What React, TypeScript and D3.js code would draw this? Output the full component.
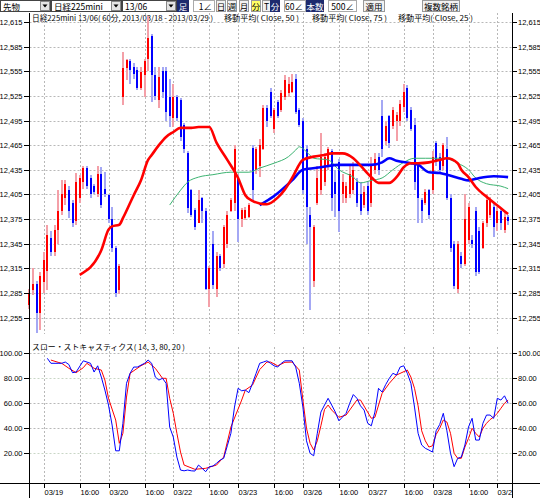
import React, { useEffect, useRef } from 'react';
import * as d3 from 'd3';

// price axis / stochastic axis ticks
const priceTicks = [12615, 12585, 12555, 12525, 12495, 12465, 12435, 12405, 12375, 12345, 12315, 12285, 12255];
const stochTicks = [100, 80, 60, 40, 20];

// time axis (bar index of each label)
const timeTickBars = [4, 14, 22, 32, 40, 50, 58, 68, 76, 86, 94, 104, 112, 122, 130];
const timeTickLabels = ['03/19', '16:00', '03/20', '16:00', '03/22', '16:00', '03/23', '16:00', '03/26', '16:00', '03/27', '16:00', '03/28', '16:00', '03/29'];

// 60 min bars
const opens = [
  12270, 12288, 12296, 12260, 12298, 12312, 12352, 12335, 12362, 12385, 12400, 12410, 12395, 12372, 12400, 12420, 12437, 12425, 12415, 12405,
  12430, 12412, 12404, 12375, 12340, 12288, 12524, 12559, 12568, 12560, 12556, 12535, 12550, 12570, 12598, 12550, 12520, 12555, 12555, 12524,
  12498, 12524, 12520, 12490, 12455, 12410, 12386, 12370, 12400, 12385, 12290, 12345, 12290, 12330, 12320, 12345, 12385, 12395, 12425, 12375,
  12376, 12378, 12462, 12435, 12440, 12460, 12510, 12530, 12485, 12518, 12508, 12524, 12528, 12530, 12545, 12508, 12495, 12460, 12380, 12300,
  12395, 12410, 12420, 12440, 12458, 12420, 12445, 12405, 12400, 12405, 12410, 12420, 12405, 12392, 12415, 12395, 12435, 12450, 12500, 12470,
  12500, 12488, 12495, 12495, 12512, 12535, 12508, 12490, 12440, 12398, 12395, 12410, 12410, 12468, 12450, 12440, 12460, 12400, 12345, 12290,
  12330, 12320, 12350, 12350, 12385, 12360, 12340, 12370, 12380, 12390, 12370, 12385, 12362, 12378,
];
const highs = [
  12290, 12315, 12300, 12310, 12335, 12368, 12360, 12368, 12410, 12422, 12422, 12415, 12398, 12431, 12428, 12440, 12440, 12428, 12418, 12440,
  12438, 12432, 12406, 12390, 12342, 12320, 12579, 12570, 12570, 12565, 12560, 12560, 12570, 12622, 12600, 12560, 12560, 12560, 12560, 12545,
  12540, 12526, 12522, 12492, 12458, 12412, 12388, 12410, 12402, 12388, 12318, 12360, 12335, 12332, 12368, 12385, 12400, 12465, 12428, 12388,
  12390, 12395, 12465, 12463, 12472, 12514, 12514, 12535, 12510, 12520, 12532, 12550, 12548, 12552, 12552, 12510, 12498, 12465, 12390, 12368,
  12440, 12480, 12455, 12463, 12460, 12435, 12448, 12430, 12420, 12440, 12445, 12425, 12420, 12415, 12420, 12450, 12455, 12455, 12520, 12495,
  12502, 12512, 12505, 12520, 12540, 12538, 12512, 12498, 12445, 12400, 12412, 12412, 12458, 12470, 12455, 12468, 12475, 12405, 12348, 12348,
  12335, 12405, 12395, 12355, 12390, 12365, 12372, 12405, 12402, 12395, 12390, 12388, 12385, 12380,
];
const lows = [
  12265, 12283, 12236, 12240, 12285, 12288, 12330, 12330, 12345, 12380, 12392, 12376, 12365, 12368, 12395, 12412, 12412, 12400, 12405, 12402,
  12388, 12402, 12370, 12335, 12280, 12284, 12514, 12544, 12540, 12545, 12532, 12532, 12524, 12555, 12518, 12520, 12510, 12522, 12495, 12487,
  12487, 12495, 12470, 12455, 12382, 12377, 12362, 12370, 12370, 12288, 12268, 12290, 12280, 12312, 12315, 12340, 12383, 12385, 12347, 12365,
  12374, 12376, 12398, 12430, 12426, 12459, 12487, 12498, 12480, 12498, 12505, 12520, 12524, 12528, 12503, 12487, 12405, 12345, 12264, 12292,
  12392, 12404, 12415, 12435, 12385, 12378, 12359, 12395, 12395, 12400, 12405, 12390, 12380, 12388, 12380, 12390, 12430, 12428, 12450, 12465,
  12462, 12485, 12470, 12488, 12505, 12495, 12482, 12410, 12370, 12370, 12392, 12375, 12405, 12440, 12430, 12435, 12398, 12335, 12290, 12285,
  12315, 12318, 12345, 12340, 12305, 12308, 12338, 12365, 12376, 12353, 12360, 12362, 12358, 12368,
];
const closes = [
  12285, 12296, 12260, 12305, 12325, 12355, 12335, 12362, 12385, 12405, 12418, 12385, 12370, 12420, 12425, 12437, 12415, 12405, 12408, 12430,
  12392, 12405, 12375, 12340, 12285, 12318, 12559, 12569, 12556, 12552, 12535, 12554, 12568, 12595, 12550, 12525, 12548, 12530, 12505, 12500,
  12524, 12498, 12475, 12460, 12388, 12380, 12365, 12398, 12385, 12290, 12315, 12295, 12330, 12315, 12365, 12380, 12398, 12460, 12375, 12386,
  12386, 12392, 12410, 12460, 12465, 12510, 12495, 12500, 12508, 12500, 12528, 12544, 12540, 12542, 12505, 12490, 12410, 12390, 12365, 12365,
  12425, 12450, 12450, 12460, 12400, 12405, 12385, 12420, 12415, 12430, 12435, 12395, 12385, 12408, 12385, 12440, 12448, 12435, 12460, 12488,
  12468, 12508, 12502, 12515, 12530, 12498, 12485, 12420, 12400, 12385, 12408, 12380, 12450, 12445, 12435, 12465, 12400, 12340, 12293, 12345,
  12320, 12375, 12390, 12345, 12310, 12310, 12370, 12398, 12398, 12365, 12385, 12370, 12378, 12372,
];

// moving averages as [bar, value]
const ma25 = [
  [14, 12307], [20, 12337], [22, 12362], [23, 12366], [25, 12368], [26, 12376], [29, 12404], [31, 12422], [33, 12447], [34, 12453],
  [36, 12465], [38, 12475], [40, 12481], [42, 12486], [45, 12486], [47, 12487], [50, 12487], [52, 12468], [55, 12447], [58, 12425],
  [60, 12404], [62, 12397], [64, 12394], [66, 12393], [69, 12401], [71, 12411], [73, 12425], [76, 12447], [79, 12451], [82, 12453],
  [84, 12455], [87, 12455], [90, 12449], [92, 12440], [95, 12426], [97, 12419], [100, 12419], [102, 12426], [104, 12438], [106, 12443],
  [108, 12443], [111, 12444], [114, 12447], [116, 12449], [119, 12443], [120, 12435], [122, 12426], [124, 12414], [127, 12402], [131, 12388],
  [133, 12381],
];
const ma50 = [
  [39, 12392], [42, 12410], [44, 12420], [47, 12426], [51, 12429], [56, 12432], [61, 12432], [64, 12437], [68, 12443], [72, 12451],
  [74, 12459], [75, 12463], [77, 12457], [79, 12449], [83, 12447], [86, 12435], [90, 12426], [92, 12419], [95, 12422], [98, 12425],
  [101, 12435], [104, 12444], [107, 12449], [110, 12449], [115, 12449], [119, 12443], [122, 12435], [124, 12425], [127, 12418], [131, 12415],
  [133, 12412],
];
const ma75 = [
  [64, 12392], [68, 12403], [73, 12422], [76, 12435], [81, 12438], [86, 12441], [92, 12441], [95, 12441], [98, 12444], [100, 12449],
  [102, 12446], [106, 12443], [108, 12441], [111, 12432], [114, 12431], [116, 12429], [120, 12424], [122, 12422], [125, 12425], [129, 12427],
  [133, 12426],
];

// slow stochastics (14, 3) as [bar, value]
const stochK = [
  [5, 96], [6, 92], [8, 92], [9, 92], [10, 93], [11, 91], [12, 84.5], [13, 85], [15, 94], [17, 92], [18, 85], [19, 90], [20, 81], [21, 70.6],
  [22, 58.6], [23, 42.6], [24, 22], [25, 22], [26, 44], [27, 76], [28, 84], [29, 89], [30, 89], [32, 92], [33, 94.6], [34, 92], [35, 81],
  [36, 78.6], [37, 80], [38, 76], [39, 41], [40, 33], [41, 17], [42, 6.6], [43, 6], [44, 6.6], [45, 6], [46, 5.8], [47, 10.6], [48, 8],
  [49, 5.3], [50, 9.3], [51, 9.8], [52, 12], [53, 14.6], [54, 16], [55, 26], [56, 36], [57, 57], [58, 72], [59, 70], [60, 70.6], [61, 68.5],
  [62, 76], [63, 84], [64, 92], [65, 93], [66, 94], [67, 92], [68, 90], [69, 89], [70, 92], [71, 94], [73, 94], [74, 89], [75, 76], [76, 57],
  [77, 30], [78, 20], [79, 18], [80, 36], [81, 53], [82, 58.6], [83, 64], [84, 58.6], [85, 53], [86, 46], [87, 49], [88, 52], [89, 60],
  [90, 67], [91, 64], [92, 58], [93, 54.6], [94, 44], [95, 42], [96, 53], [97, 72], [98, 69], [99, 75], [100, 80], [101, 84], [102, 82.6],
  [103, 89], [104, 90], [105, 84], [106, 76], [107, 57], [108, 36], [109, 26.6], [110, 24], [111, 22.6], [112, 21], [113, 38], [114, 43],
  [115, 52], [116, 38], [117, 20], [118, 9.3], [119, 16], [120, 17], [121, 26.6], [122, 41], [123, 48], [124, 30.6], [125, 30.6], [126, 44],
  [127, 50.6], [128, 50.6], [129, 48], [130, 64], [131, 62.6], [132, 66], [133, 60],
];
const stochD = [
  [6, 94.6], [8, 92.8], [9, 92], [11, 88], [13, 84.5], [15, 88.5], [16, 92], [18, 88], [20, 86.6], [21, 78.6], [22, 64], [24, 46.6],
  [25, 28], [26, 36], [27, 65], [28, 84], [31, 90], [33, 93], [35, 88], [37, 80], [38, 80], [39, 64], [40, 52], [41, 36], [42, 21],
  [43, 10.6], [46, 7.2], [49, 8], [52, 10.6], [54, 17], [56, 41], [59, 62.6], [60, 70.6], [62, 74.6], [64, 87], [66, 93], [67, 93],
  [69, 90], [71, 92.8], [73, 93], [75, 86.6], [76, 62.6], [77, 40], [78, 28], [79, 22.6], [80, 30], [81, 42], [82, 55], [83, 58.6],
  [84, 54.6], [86, 48.8], [88, 50.6], [91, 62.6], [92, 62.6], [95, 48], [96, 48.8], [98, 68], [100, 76], [102, 82.6], [105, 86.6],
  [106, 81], [107, 72], [108, 58], [109, 38], [110, 30], [111, 25], [112, 26], [113, 35], [114, 40], [115, 46.6], [116, 45], [117, 36],
  [118, 20], [119, 16], [120, 16], [121, 25], [122, 32], [123, 40], [124, 36], [125, 33], [126, 40], [127, 44], [128, 47], [129, 49],
  [130, 52], [131, 56], [132, 60], [133, 62.6],
];

const JP = '"Noto Sans CJK JP", sans-serif';
const NUM = '"Liberation Sans", Arial, sans-serif';

export default function App() {
  const svgRef = useRef<SVGSVGElement>(null);

  useEffect(() => {
    document.body.style.margin = '0';
    if (!svgRef.current) return;
    const svg = d3.select(svgRef.current);
    svg.selectAll('*').remove();

    const left = 29.5;
    const right = 512.5;
    const axisY = 483.5;

    const x = d3.scaleLinear().domain([0, 133]).range([29.3, 508.1]);
    const yP = d3.scaleLinear().domain([12255, 12615]).range([317.5, 22]);
    const yS = d3.scaleLinear().domain([0, 100]).range([478.3, 353.3]);
    const px = (i: number) => Math.round(x(i));

    svg.append('rect').attr('width', 540).attr('height', 498).attr('fill', '#fff');

    // ---- toolbar
    const tb = svg.append('g').attr('font-family', JP).attr('font-size', 8.5);
    const selectBox = (x0: number, w: number, label: string) => {
      tb.append('rect').attr('x', x0 + 0.5).attr('y', 0.5).attr('width', w).attr('height', 11)
        .attr('fill', '#fff').attr('stroke', '#444');
      tb.append('text').attr('x', x0 + 3).attr('y', 9.5).text(label);
      tb.append('rect').attr('x', x0 + w - 9.5).attr('y', 1.5).attr('width', 9).attr('height', 9)
        .attr('fill', '#e4e4e4').attr('stroke', '#888');
      tb.append('path').attr('d', `M${x0 + w - 7.5},4.5 h5 l-2.5,3 z`).attr('fill', '#000');
    };
    selectBox(0, 50, '先物');
    selectBox(51, 70, '日経225mini');
    selectBox(122, 54, '13/06');

    const navy = (x0: number, w: number, label: string) => {
      tb.append('rect').attr('x', x0).attr('y', 0).attr('width', w).attr('height', 12).attr('fill', '#1d2a6e');
      tb.append('text').attr('x', x0 + w / 2).attr('y', 9.5).attr('text-anchor', 'middle')
        .attr('fill', '#fff').text(label);
    };
    const btn = (x0: number, w: number, label: string, fill = '#f2f2f2') => {
      tb.append('rect').attr('x', x0 + 0.5).attr('y', 0.5).attr('width', w).attr('height', 11)
        .attr('fill', fill).attr('stroke', '#999');
      tb.append('text').attr('x', x0 + w / 2 + 0.5).attr('y', 9.5).attr('text-anchor', 'middle').text(label);
    };
    const input = (x0: number, w: number, label: string) => {
      tb.append('rect').attr('x', x0 + 0.5).attr('y', 0.5).attr('width', w).attr('height', 11)
        .attr('fill', '#fff').attr('stroke', '#aaa');
      tb.append('text').attr('x', x0 + w - 2).attr('y', 9.5).attr('text-anchor', 'end').text(label);
    };
    navy(177, 12, '足');
    input(193, 21, '1∠');
    btn(216, 9, '日');
    btn(227, 9, '週');
    btn(239, 9, '月');
    btn(251, 9, '分', '#ffff66');
    btn(262, 8, 'T');
    navy(270, 10, '分');
    input(284, 21, '60∠');
    navy(306, 18, '本数');
    input(328, 28, '500∠');
    btn(363, 21, '適用');
    btn(422, 37, '複数銘柄');

    // ---- titles
    const tt = svg.append('g').attr('font-family', JP).attr('font-size', 7.5).attr('fill', '#000');
    tt.append('text').attr('x', 32).attr('y', 20.5).attr('textLength', 181).attr('lengthAdjust', 'spacingAndGlyphs')
      .text('日経225mini 13/06( 60分, 2013/03/18 - 2013/03/29 )');
    [['移動平均( Close, 50 )', 224], ['移動平均( Close, 75 )', 312], ['移動平均( Close, 25 )', 398]].forEach(([t, xx]) => {
      tt.append('text').attr('x', xx as number).attr('y', 20.5).attr('textLength', 75)
        .attr('lengthAdjust', 'spacingAndGlyphs').text(t as string);
    });
    tt.append('text').attr('x', 32).attr('y', 350).attr('textLength', 153).attr('lengthAdjust', 'spacingAndGlyphs')
      .text('スロー・ストキャスティクス( 14, 3, 80, 20 )');

    // ---- grid
    const grid = svg.append('g').attr('stroke', '#b8b8b8').attr('stroke-dasharray', '2,2').attr('stroke-width', 1);
    priceTicks.forEach((t) => {
      const yy = Math.round(yP(t)) + 0.5;
      grid.append('line').attr('x1', left).attr('x2', right).attr('y1', yy).attr('y2', yy);
    });
    stochTicks.forEach((t) => {
      const yy = Math.round(yS(t)) + 0.5;
      if (t === 80 || t === 20) {
        grid.append('line').attr('x1', left).attr('x2', right).attr('y1', yy).attr('y2', yy)
          .attr('stroke', '#c9d6c6').attr('stroke-dasharray', null);
      } else {
        grid.append('line').attr('x1', left).attr('x2', right).attr('y1', yy).attr('y2', yy);
      }
    });
    timeTickBars.forEach((b) => {
      const xx = px(b) + 0.5;
      grid.append('line').attr('x1', xx).attr('x2', xx).attr('y1', 13).attr('y2', 334);
      grid.append('line').attr('x1', xx).attr('x2', xx).attr('y1', 347).attr('y2', axisY);
    });

    // ---- candles
    const bars = d3.range(opens.length);
    const cg = svg.append('g').attr('shape-rendering', 'crispEdges');
    cg.selectAll('rect.wick').data(bars).enter().append('rect')
      .attr('x', (i) => px(i) - 1)
      .attr('width', 2)
      .attr('y', (i) => yP(highs[i]))
      .attr('height', (i) => Math.max(1, yP(lows[i]) - yP(highs[i])))
      .attr('fill', (i) => (closes[i] >= opens[i] ? '#f4a0a8' : '#a4a8f4'));
    cg.selectAll('rect.body').data(bars).enter().append('rect')
      .attr('x', (i) => px(i) - 1)
      .attr('width', 2)
      .attr('y', (i) => yP(Math.max(opens[i], closes[i])))
      .attr('height', (i) => Math.max(1, Math.abs(yP(opens[i]) - yP(closes[i]))))
      .attr('fill', (i) => (closes[i] >= opens[i] ? '#ff0000' : '#0000ff'));

    // ---- moving averages
    const maLine = d3.line<number[]>().x((d) => x(d[0])).y((d) => yP(d[1])).curve(d3.curveMonotoneX);
    svg.append('path').datum(ma50).attr('d', maLine).attr('fill', 'none').attr('stroke', '#3cb371').attr('stroke-width', 1);
    svg.append('path').datum(ma75).attr('d', maLine).attr('fill', 'none').attr('stroke', '#0000ff').attr('stroke-width', 2.6);
    svg.append('path').datum(ma25).attr('d', maLine).attr('fill', 'none').attr('stroke', '#ff0000').attr('stroke-width', 2.6);

    // ---- stochastics
    const stLine = d3.line<number[]>().x((d) => x(d[0])).y((d) => yS(d[1]));
    svg.append('path').datum(stochD).attr('d', stLine).attr('fill', 'none').attr('stroke', '#ff0000').attr('stroke-width', 1);
    svg.append('path').datum(stochK).attr('d', stLine).attr('fill', 'none').attr('stroke', '#0000ff').attr('stroke-width', 1);

    // ---- axes
    const ax = svg.append('g').attr('stroke', '#000').attr('stroke-width', 1).attr('shape-rendering', 'crispEdges');
    ax.append('line').attr('x1', left).attr('x2', left).attr('y1', 13).attr('y2', 498);
    ax.append('line').attr('x1', right).attr('x2', right).attr('y1', 13).attr('y2', 498);
    ax.append('line').attr('x1', 0).attr('x2', 540).attr('y1', axisY).attr('y2', axisY);

    const lab = svg.append('g').attr('font-family', NUM).attr('font-size', 7.5).attr('fill', '#000');
    const tickFmt = d3.format(',');
    priceTicks.forEach((t) => {
      const yy = Math.round(yP(t)) + 0.5;
      ax.append('line').attr('x1', 24).attr('x2', left).attr('y1', yy).attr('y2', yy);
      ax.append('line').attr('x1', right).attr('x2', 517).attr('y1', yy).attr('y2', yy);
      lab.append('text').attr('x', 22.5).attr('y', yy + 2.8).attr('text-anchor', 'end').text(tickFmt(t));
      lab.append('text').attr('x', 518).attr('y', yy + 2.8).text(tickFmt(t));
    });
    const stFmt = d3.format('.2f');
    stochTicks.forEach((t) => {
      const yy = Math.round(yS(t)) + 0.5;
      ax.append('line').attr('x1', 24).attr('x2', left).attr('y1', yy).attr('y2', yy);
      ax.append('line').attr('x1', right).attr('x2', 517).attr('y1', yy).attr('y2', yy);
      lab.append('text').attr('x', 22.5).attr('y', yy + 2.8).attr('text-anchor', 'end').text(stFmt(t));
      lab.append('text').attr('x', 518).attr('y', yy + 2.8).text(stFmt(t));
    });

    svg.append('clipPath').attr('id', 'xclip').append('rect').attr('x', 0).attr('y', 480).attr('width', right).attr('height', 20);
    const xl = svg.append('g').attr('clip-path', 'url(#xclip)');
    timeTickBars.forEach((b, k) => {
      const xx = px(b) + 0.5;
      xl.append('line').attr('x1', xx).attr('x2', xx).attr('y1', axisY).attr('y2', axisY + 4)
        .attr('stroke', '#000').attr('shape-rendering', 'crispEdges');
      xl.append('text').attr('x', xx).attr('y', 495).attr('font-family', NUM).attr('font-size', 7.5)
        .text(timeTickLabels[k]);
    });
  }, []);

  return <svg ref={svgRef} width={540} height={498} style={{ display: 'block' }} />;
}
